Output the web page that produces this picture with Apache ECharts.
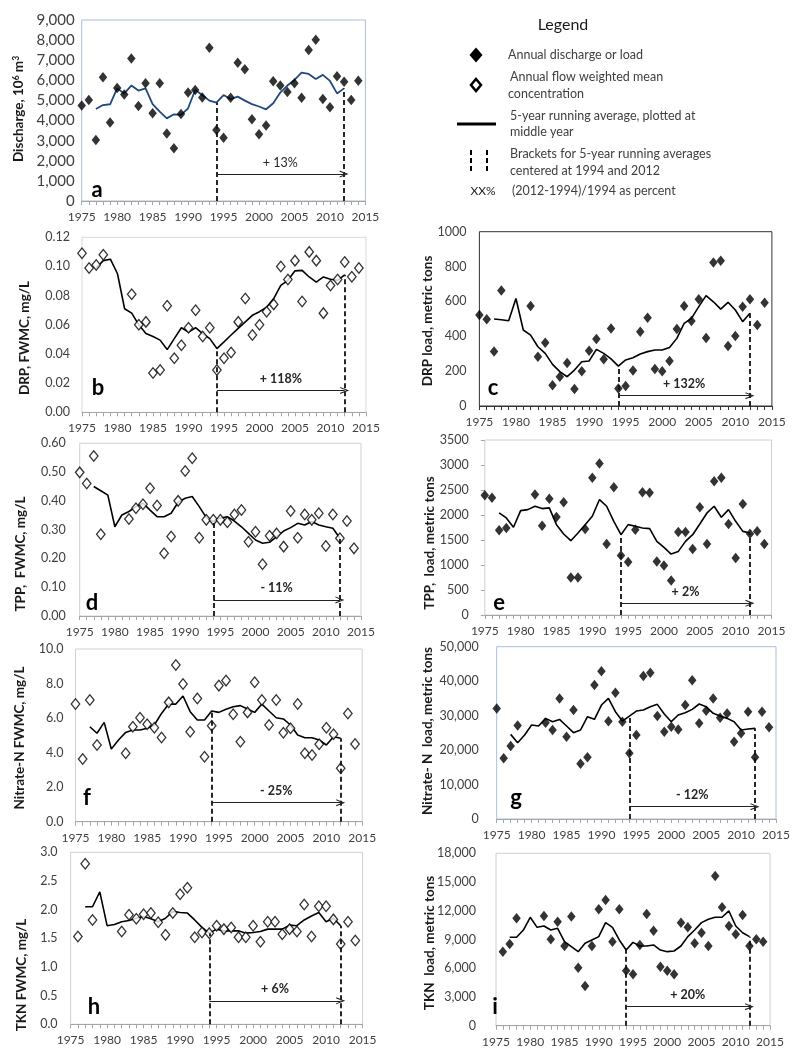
<!DOCTYPE html>
<html><head><meta charset="utf-8">
<script src="https://cdn.jsdelivr.net/npm/echarts@6/dist/echarts.min.js"></script>
<style>html,body{margin:0;padding:0;background:#fff}#c{width:800px;height:1063px}</style>
</head><body><div id="c"></div>
<script>
// ---------------- DATA ----------------
const years = [1975,1976,1977,1978,1979,1980,1981,1982,1983,1984,1985,1986,1987,1988,1989,1990,1991,1992,1993,1994,
               1995,1996,1997,1998,1999,2000,2001,2002,2003,2004,2005,2006,2007,2008,2009,2010,2011,2012,2013,2014];
const xTicks = [1975,1980,1985,1990,1995,2000,2005,2010,2015];
const bracketYears = [1994, 2012];

// a: discharge, 10^6 m3
const discharge = [4750,5020,3030,6150,3900,5620,5300,7080,4720,5850,4360,5850,3360,2620,4330,5400,5520,5150,7620,3530,
                   3150,5140,6880,6550,4060,3320,3750,5950,5740,5420,5850,5140,7510,8020,5070,4660,6200,5930,5020,5980];
const dischargeAvg = [null,null,4575,4770,4810,5600,5350,5740,5490,5600,4820,4440,4110,4310,4280,4610,5520,5270,4990,4890,
                      5270,5070,5190,4990,4820,4700,4560,4860,5390,5740,6020,6380,6320,6070,6270,5970,5350,5600,null,null];
// b: DRP FWMC
const drpConc = [0.109,0.099,0.101,0.108,null,null,null,0.081,0.060,0.062,0.027,0.029,0.073,0.037,0.046,0.058,0.070,0.052,0.058,0.029,
                 0.037,0.041,0.062,0.078,0.053,0.060,0.069,0.074,0.100,0.091,0.104,0.076,0.110,0.104,0.068,0.087,0.091,0.103,0.093,0.099];
const drpConcAvg = [null,null,0.099,0.104,0.105,0.095,0.071,0.068,0.060,0.054,0.052,0.0495,0.043,0.0505,0.058,0.055,0.058,0.054,0.0505,0.0437,
                    0.0483,0.053,0.0575,0.062,0.0665,0.069,0.072,0.078,0.087,0.0905,0.097,0.0973,0.0928,0.0893,0.0928,0.0912,0.0905,0.0943,null,null];
// c: DRP load
const drpLoad = [522,497,312,662,null,null,null,574,283,363,119,168,247,98,199,317,384,268,445,101,
                 115,203,426,507,212,199,258,442,574,488,612,390,824,834,344,402,570,612,465,593];
const drpLoadAvg = [null,null,499,495,489,617,436,407,340,302,239,197,168,206,254,258,325,302,270,229,
                    264,277,298,312,321,321,335,388,474,503,570,633,598,556,595,551,484,532,null,null];
// d: TPP FWMC
const tppConc = [0.499,0.460,0.556,0.284,null,null,null,0.337,0.374,0.388,0.444,0.384,0.218,0.276,0.400,0.504,0.548,0.272,0.334,0.334,
                 0.334,0.326,0.353,0.368,0.258,0.293,0.180,0.279,0.287,0.241,0.365,0.272,0.353,0.334,0.357,0.243,0.353,0.270,0.330,0.235];
const tppConcAvg = [null,null,0.450,0.435,0.420,0.310,0.351,0.363,0.380,0.392,0.368,0.345,0.345,0.357,0.395,0.409,0.415,0.380,0.342,0.328,
                    0.340,0.345,0.330,0.310,0.287,0.264,0.253,0.256,0.276,0.295,0.307,0.322,0.316,0.328,0.316,0.310,0.305,0.270,null,null];
// e: TPP load
const tppLoad = [2396,2343,1693,1740,null,null,null,2410,1787,2323,1961,2256,750,750,1720,2744,3032,1419,2557,1191,
                 1058,1707,2456,2443,1071,991,689,1660,1660,1319,2155,1419,2677,2744,1821,1138,2222,1627,1673,1419];
const tppLoadAvg = [null,null,2041,1941,1754,2088,2108,2175,2128,2142,1807,1620,1486,1640,1807,1975,2309,2175,1874,1606,
                    1807,1774,1740,1727,1473,1352,1218,1272,1473,1606,1821,2041,2175,1954,2108,1874,1673,1640,null,null];
// f: Nitrate-N FWMC
const nitConc = [6.81,3.63,7.05,4.44,null,null,null,3.96,5.50,6.02,5.64,5.44,4.88,6.91,9.07,7.97,5.21,7.14,3.76,5.56,
                 7.88,8.17,6.22,4.63,6.33,8.07,7.05,5.60,7.05,5.15,5.41,6.81,3.96,3.86,4.48,5.44,5.06,3.09,6.27,4.50];
const nitConcAvg = [null,null,5.50,5.12,5.75,4.21,4.73,5.17,5.31,5.31,5.41,5.60,6.27,6.81,6.81,7.28,6.37,5.89,5.89,6.41,
                    6.33,6.51,6.66,6.72,6.53,6.33,6.81,6.41,6.02,5.95,5.60,5.02,4.86,4.86,4.73,4.44,4.92,4.83,null,null];
// g: Nitrate-N load
const nitLoad = [32100,17600,21200,27100,null,null,null,27950,25800,35000,23900,31600,16000,17900,38900,42900,28400,36650,28200,19050,
                 24400,41500,42450,29900,25300,26800,26000,33100,40300,27750,31400,35000,29400,30650,22400,24850,31150,17900,31150,26600];
const nitLoadAvg = [null,null,24560,22150,24370,27270,26980,29200,28240,28900,26980,25050,25820,29690,28920,33070,35000,31140,28430,29880,
                    31330,31620,32590,33270,30460,28240,30170,30850,31820,33370,32590,30660,29880,29200,28240,25820,26110,26300,null,null];
// h: TKN FWMC
const tknConc = [null,1.53,2.80,1.82,null,null,null,1.62,1.91,1.84,1.92,1.94,1.78,1.56,1.94,2.27,2.38,1.52,1.60,1.59,
                 1.72,1.66,1.69,1.52,1.52,1.72,1.44,1.79,1.79,1.57,1.66,1.62,2.09,1.53,2.06,2.06,1.83,1.40,1.79,1.46];
const tknConcAvg = [null,null,2.05,2.05,2.31,1.72,1.74,1.79,1.81,1.85,1.88,1.84,1.79,1.85,1.97,1.95,1.94,1.82,1.69,1.59,
                    1.66,1.63,1.63,1.63,1.59,1.60,1.62,1.66,1.66,1.66,1.73,1.72,1.82,1.89,1.95,1.79,1.85,1.72,null,null];
// i: TKN load
const tknLoad = [null,7730,8530,11210,null,null,null,11460,9020,10860,8320,11390,6060,4140,8320,12150,13130,8770,12150,5750,
                 5360,8430,11660,9920,6160,5750,5360,10760,10270,8600,9710,8320,15630,12360,10410,9540,11560,8320,9020,8770];
const tknLoadAvg = [null,null,9230,9230,9990,11320,10270,10410,9990,10170,8770,8250,7730,8600,8950,9300,10760,10270,8950,7900,
                    8700,8320,8320,8430,7900,7730,7800,8320,9300,9990,10760,11110,11320,11320,11980,10410,9710,9300,null,null];

const pctLabels = ['+ 13%','+ 118%','+ 132%','- 11%','+ 2%','- 25%','- 12%','+ 6%','+ 20%'];
const panelLetters = ['a','b','c','d','e','f','g','h','i'];
const yTitles = ['Discharge, 10{sup|6} m{sup|3}','DRP, FWMC, mg/L','DRP load, metric tons','TPP,  FWMC, mg/L','TPP,  load, metric tons',
                 'Nitrate-N FWMC, mg/L','Nitrate- N  load, metric tons','TKN FWMC, mg/L','TKN  load, metric tons'];
const yMax = [9000,0.12,1000,0.6,3500,10,50000,3,18000];
const yStep = [1000,0.02,200,0.1,500,2,10000,0.5,3000];

// ---------------- LAYOUT / STYLE ----------------
const FONT = 'Lato';
const fmtComma = v => v.toLocaleString('en-US');
const panels = [
  {pts:discharge, avg:dischargeAvg, filled:true,  grid:[81.7,20,283.7,181],   fmt:fmtComma, lblSize:15, lblMargin:7,  frame:'#A9BEDD', lineColor:'#1F497D', arrowAt:1340, pctBold:false, title:[19,109], letter:[97,190]},
  {pts:drpConc,   avg:drpConcAvg,   filled:false, grid:[82,237.3,284,175],     fmt:v=>v.toFixed(2), lblSize:12.5, lblMargin:12, frame:'#D9D9D9', arrowAt:0.015, title:[25,338], letter:[98,388]},
  {pts:drpLoad,   avg:drpLoadAvg,   filled:true,  grid:[479.4,231.7,292.5,174.3], fmt:v=>String(v), lblSize:12.5, lblMargin:13, frame:'#333333', axisDark:true, arrowAt:59, title:[428,321], letter:[493,388]},
  {pts:tppConc,   avg:tppConcAvg,   filled:false, grid:[79.7,443.3,281.3,172.7], fmt:v=>v.toFixed(2), lblSize:12.5, lblMargin:14, frame:'#D0D0D0', arrowAt:0.056, title:[21,554], letter:[92,603]},
  {pts:tppLoad,   avg:tppLoadAvg,   filled:true,  grid:[484.8,440,286.7,175],  fmt:v=>String(v), lblSize:12.5, lblMargin:16, frame:'#D0D0D0', yTicks:true, arrowAt:234, title:[430,543], letter:[499,603]},
  {pts:nitConc,   avg:nitConcAvg,   filled:false, grid:[75.5,649,286.7,172.7], fmt:v=>v.toFixed(1), lblSize:12.5, lblMargin:12, frame:'#D0D0D0', arrowAt:1.10, title:[20,738], letter:[87,798]},
  {pts:nitLoad,   avg:nitLoadAvg,   filled:true,  grid:[496.7,646.7,279.3,172.3], fmt:fmtComma, lblSize:12.5, lblMargin:18, frame:'#A9BEDD', arrowAt:3580, title:[428,731], letter:[516,798]},
  {pts:tknConc,   avg:tknConcAvg,   filled:false, grid:[70.6,852.3,292,172],   fmt:v=>v.toFixed(1), lblSize:12.5, lblMargin:13, frame:'#D0D0D0', arrowAt:0.41, title:[22,975], letter:[94,1007]},
  {pts:tknLoad,   avg:tknLoadAvg,   filled:true,  grid:[496,853.3,274,172.4],  fmt:fmtComma, lblSize:12.5, lblMargin:20, frame:'#D0D0D0', arrowAt:1985, title:[430,943], letter:[495,1007]}
];

const pairs = arr => years.map((y,i)=>[y,arr[i]]).filter(p=>p[1]!==null);
const valueAt = (arr, yr) => arr[years.indexOf(yr)];
const chevron = 'path://M0,10 L5,0 L10,10 L8.4,10 L5,3.2 L1.6,10 Z';

const grids=[], xAxes=[], yAxes=[], series=[], graphics=[];
panels.forEach((p,i)=>{
  grids.push({left:p.grid[0], top:p.grid[1], width:p.grid[2], height:p.grid[3], show:true,
              borderColor:p.frame, borderWidth:1, backgroundColor:'transparent'});
  const axCol = p.axisDark ? '#333333' : '#A6A6A6';
  xAxes.push({gridIndex:i, type:'value', min:xTicks[0], max:xTicks[xTicks.length-1], interval:5,
    axisLine:{show:true, lineStyle:{color:axCol, width:1}},
    axisTick:{show:true, length:4, lineStyle:{color:axCol}},
    minorTick:{show:true, splitNumber:5, length:4, lineStyle:{color:axCol}},
    splitLine:{show:false}, minorSplitLine:{show:false},
    axisLabel:{fontSize:12, color:'#404040', margin:10, fontFamily:FONT, formatter:v=>String(v)}
  });
  yAxes.push({gridIndex:i, type:'value', min:0, max:yMax[i], interval:yStep[i],
    axisLine:{show:false}, splitLine:{show:false},
    axisTick:{show:!!p.yTicks, length:4, lineStyle:{color:'#A6A6A6'}},
    axisLabel:{fontSize:p.lblSize, color:'#404040', margin:p.lblMargin, fontFamily:FONT, formatter:p.fmt}
  });
  series.push({type:'line', xAxisIndex:i, yAxisIndex:i, data:pairs(p.avg), showSymbol:false, symbol:'none',
    lineStyle:{color:p.lineColor||'#000', width:p.lineColor?1.8:1.6}, z:2, silent:true,
    markLine:{silent:true, symbol:'none', animation:false,
      lineStyle:{color:'#111', width:1.8, type:[5,3]}, label:{show:false},
      data: bracketYears.map(y=>[{coord:[y,0]},{coord:[y,valueAt(p.avg,y)]}])}
  });
  series.push({type:'scatter', xAxisIndex:i, yAxisIndex:i, data:pairs(p.pts), symbol:'diamond', symbolSize:[8.5,10.5],
    itemStyle: p.filled ? {color:'#000'} : {color:'#fff', borderColor:'#000', borderWidth:1.3}, z:3, silent:true,
    markLine:{silent:true, animation:false, symbol:['none',chevron], symbolSize:[7,9],
      lineStyle:{color:'#222', width:1, type:'solid'},
      label:{show:true, position:'insideMiddleTop', distance:5, formatter:pctLabels[i],
             fontFamily:FONT, fontSize:12.5, fontWeight:p.pctBold===false?'normal':'bold', color:'#262626'},
      data:[[{coord:[bracketYears[0],p.arrowAt]},{coord:[bracketYears[1],p.arrowAt]}]]}
  });
  graphics.push({type:'text', x:p.title[0], y:p.title[1], rotation:Math.PI/2, silent:true,
    style:{text:yTitles[i], align:'center', verticalAlign:'middle', fill:'#1a1a1a',
      font:'bold 13.5px '+FONT, rich:{sup:{fontSize:8.5, fontWeight:'bold', verticalAlign:'top', fill:'#1a1a1a', fontFamily:FONT}}}});
  graphics.push({type:'text', x:p.letter[0], y:p.letter[1], silent:true,
    style:{text:panelLetters[i], align:'center', verticalAlign:'middle', fill:'#000', font:'bold 22px '+FONT}});
});

// Legend panel (drawn)
const legTxt = (t,x,y)=>({type:'text', x, y, silent:true, style:{text:t, align:'left', verticalAlign:'middle', fill:'#404040', font:'12.5px '+FONT}});
graphics.push({type:'text', x:563, y:25, silent:true, style:{text:'Legend', align:'center', verticalAlign:'middle', fill:'#1a1a1a', font:'16px '+FONT}});
graphics.push({type:'polygon', silent:true, shape:{points:[[476,47.5],[482.5,55],[476,62.5],[469.5,55]]}, style:{fill:'#000'}});
graphics.push(legTxt('Annual discharge or load',508,55));
graphics.push({type:'polygon', silent:true, shape:{points:[[476,79],[481,85],[476,91],[471,85]]}, style:{fill:'#fff', stroke:'#000', lineWidth:2.5}});
graphics.push(legTxt('Annual flow weighted mean',510,77));
graphics.push(legTxt('concentration',508,94));
graphics.push({type:'line', silent:true, shape:{x1:457,y1:124,x2:496,y2:124}, style:{stroke:'#000', lineWidth:3}});
graphics.push(legTxt('5-year running average, plotted at',510,116));
graphics.push(legTxt('middle year',510,132));
graphics.push({type:'line', silent:true, shape:{x1:471,y1:150,x2:471,y2:172}, style:{stroke:'#000', lineWidth:2, lineDash:[5,3]}});
graphics.push({type:'line', silent:true, shape:{x1:487,y1:150,x2:487,y2:172}, style:{stroke:'#000', lineWidth:2, lineDash:[5,3]}});
graphics.push(legTxt('Brackets for 5-year running averages',510,154));
graphics.push(legTxt('centered at 1994 and 2012',510,171));
graphics.push({type:'text', x:483, y:191, silent:true, style:{text:'XX%', align:'center', verticalAlign:'middle', fill:'#1a1a1a', font:'12px '+FONT}});
graphics.push(legTxt('(2012-1994)/1994 as percent',512,191));

const chart = echarts.init(document.getElementById('c'), null, {renderer:'canvas'});
chart.setOption({
  animation:false,
  backgroundColor:'#fff',
  textStyle:{fontFamily:FONT},
  grid:grids, xAxis:xAxes, yAxis:yAxes, series:series, graphic:graphics
});
</script></body></html>
